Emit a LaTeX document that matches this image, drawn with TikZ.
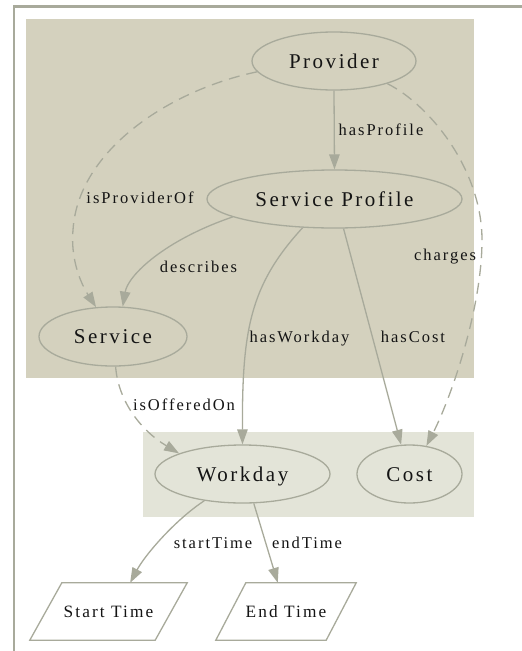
\documentclass[tikz,border=0pt]{standalone}
\usepackage{fontspec}
\setmainfont{Liberation Serif}
\newfontfamily\nodefont[LetterSpace=12]{Liberation Serif}
\usetikzlibrary{shapes.geometric,arrows.meta,calc}
\definecolor{framec}{RGB}{168,170,155}
\definecolor{edgec}{RGB}{168,170,155}
\definecolor{clusterA}{RGB}{212,209,190}
\definecolor{clusterB}{RGB}{227,228,216}
\definecolor{inkc}{RGB}{20,20,20}
\begin{document}
\begin{tikzpicture}[x=1pt,y=-1pt,
  concept/.style={ellipse, draw=edgec, line width=1.3pt, inner sep=0pt,
    text=inkc, font=\nodefont\fontsize{21}{24}\selectfont,
    text height=16pt, text depth=2pt},
  datum/.style={rectangle, inner sep=0pt, minimum height=57pt,
    text=inkc, font=\nodefont\fontsize{17.3}{20}\selectfont,
    text height=14pt, text depth=2pt},
  slant/.style={draw=edgec, line width=1.3pt, fill=white, line join=miter},
  elabel/.style={inner sep=0pt, anchor=base, text=inkc,
    font=\nodefont\fontsize{16.5}{19}\selectfont},
  link/.style={draw=edgec, line width=1.3pt,
    -{Triangle[length=15pt,width=10.5pt]}},
  dashlink/.style={link, dash pattern=on 11pt off 7pt},
]
\useasboundingbox (0,0) rectangle (522,651);
\clip (0,0) rectangle (522,651);
\fill[white] (0,0) rectangle (522,651);

% outer frame (runs past the right and bottom edges)
\draw[framec, line width=2.5pt] (14,6.5) rectangle (580,720);

% clusters
\fill[clusterA] (26,19) rectangle (474,378);
\fill[clusterB] (143,432) rectangle (474,517);

% concepts
\node[concept, fill=clusterA, minimum width=164pt, minimum height=58pt] (prov) at (334,61) {Provider};
\node[concept, fill=clusterA, minimum width=255pt, minimum height=58pt] (sprof) at (334.5,199) {Service Profile};
\node[concept, fill=clusterA, minimum width=148pt, minimum height=59pt] (serv) at (113,336.5) {Service};
\node[concept, fill=clusterB, minimum width=175pt, minimum height=58pt] (wd) at (242.5,474) {Workday};
\node[concept, fill=clusterB, minimum width=105pt, minimum height=58pt] (cost) at (409.5,474) {Cost};

% data values (parallelograms)
\node[datum, minimum width=157pt] (st) at (108.5,611.5) {};
\draw[slant] ($(st.north west)+(32,0)$) -- (st.north east) -- ($(st.south east)-(32,0)$) -- (st.south west) -- cycle;
\node[datum, minimum width=140pt] (et) at (286,611.5) {};
\draw[slant] ($(et.north west)+(30,0)$) -- (et.north east) -- ($(et.south east)-(30,0)$) -- (et.south west) -- cycle;
\node[datum] (stText) at (st.center) {Start Time};
\node[datum] (etText) at (et.center) {End Time};

% relations
\draw[link] (prov.south) -- (sprof.north);
\draw[dashlink] (prov.188) .. controls (170,90) and (78,150) .. (73,230)
   .. controls (70,265) and (85,290) .. (serv.120);
\draw[dashlink] (prov.337) .. controls (430,105) and (482,170) .. (482,240)
   .. controls (482,310) and (450,400) .. (cost.59);
\draw[link] (sprof.190) .. controls (165,240) and (128,275) .. (serv.72);
\draw[link] (sprof.222) .. controls (250,285) and (242,330) .. (wd.north);
\draw[link] (sprof.287) -- (cost.106);
\draw[dashlink] (serv.-85) .. controls (118,400) and (140,430) .. (wd.162);
\draw[link] (wd.215) .. controls (175,520) and (145,555) .. (st.53);
\draw[link] (wd.291) -- (et.106);

% relation labels
\node[elabel] (lProfile) at (381,135) {hasProfile};
\node[elabel] (lProvider) at (140,203.3) {isProviderOf};
\node[elabel] (lDescribes) at (198.5,272.5) {describes};
\node[elabel] (lCharges) at (445,260) {charges};
\node[elabel] (lWorkday) at (299.5,342) {hasWorkday};
\node[elabel] (lCost) at (413,342) {hasCost};
\node[elabel] (lOffered) at (184,410) {isOfferedOn};
\node[elabel] (lStart) at (213,548) {startTime};
\node[elabel] (lEnd) at (307,548) {endTime};
\end{tikzpicture}
\end{document}
